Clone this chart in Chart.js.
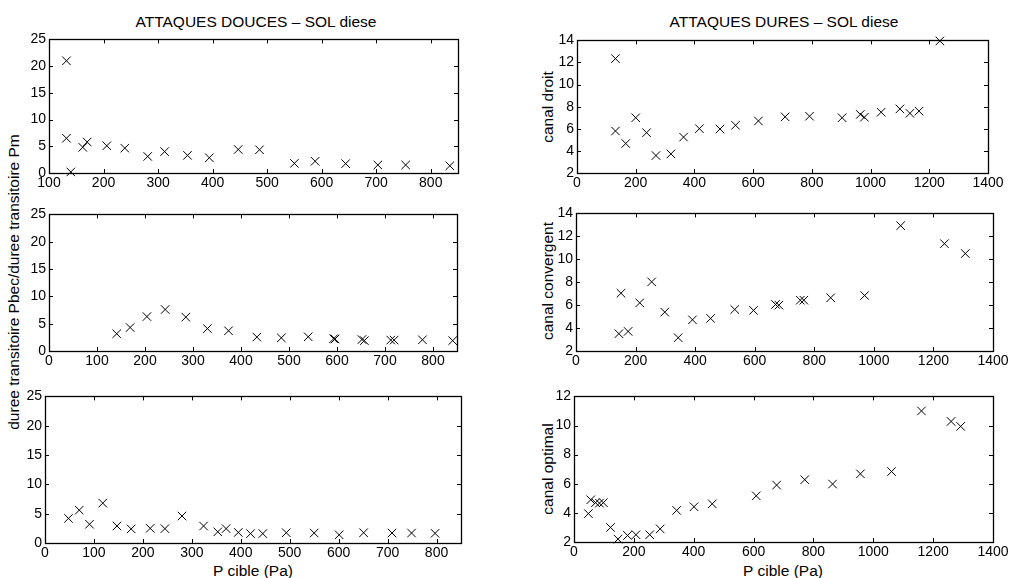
<!DOCTYPE html>
<html>
<head>
<meta charset="utf-8">
<script src="https://cdn.jsdelivr.net/npm/chart.js@4"></script>
<style>
  body { margin: 0; background: #fff; width: 1010px; height: 578px; position: relative; overflow: hidden;
         font-family: "Liberation Sans", Arial, sans-serif; color: #000; }
  canvas { position: absolute; }
  .lbl { position: absolute; font-size: 15.5px; line-height: 1; white-space: nowrap; transform: translate(-50%, -50%); }
  .rot { transform: translate(-50%, -50%) rotate(-90deg); }
</style>
</head>
<body>
<div class="lbl" style="left:256px; top:22px;">ATTAQUES DOUCES – SOL diese</div>
<div class="lbl" style="left:784px; top:22px;">ATTAQUES DURES – SOL diese</div>
<div class="lbl rot" style="left:14px; top:282px;">duree transitoire Pbec/duree transitoire Pm</div>
<div class="lbl rot" style="left:548px; top:107px;">canal droit</div>
<div class="lbl rot" style="left:548px; top:281px;">canal convergent</div>
<div class="lbl rot" style="left:548px; top:469px;">canal optimal</div>
<div class="lbl" style="left:253px; top:571px;">P cible (Pa)</div>
<div class="lbl" style="left:783px; top:571px;">P cible (Pa)</div>

<script>
// attaques douces (colonne gauche) : x = P cible (Pa), y = rapport des durees transitoires
const doucesDroitP = [132, 132, 140, 162, 170, 206, 239, 281, 312, 354, 394, 447, 486, 550, 588, 644, 703, 754, 835];
const doucesDroitR = [21, 6.5, 0.2, 4.8, 5.8, 5.1, 4.65, 3.1, 4.0, 3.3, 2.85, 4.4, 4.35, 1.8, 2.2, 1.75, 1.5, 1.5, 1.35];

const doucesConvP = [141, 169, 204, 242, 285, 330, 374, 433, 484, 540, 593, 596, 652, 657, 712, 719, 778, 841];
const doucesConvR = [3.15, 4.3, 6.3, 7.6, 6.2, 4.1, 3.7, 2.55, 2.4, 2.6, 2.25, 2.2, 2.1, 1.9, 2.0, 2.0, 2.05, 1.9];

const doucesOptP = [48, 70, 91, 118, 147, 176, 215, 245, 280, 324, 353, 370, 395, 420, 445, 493, 550, 601, 651, 709, 749, 797];
const doucesOptR = [4.2, 5.6, 3.2, 6.8, 2.9, 2.4, 2.5, 2.45, 4.6, 2.9, 1.9, 2.45, 1.8, 1.6, 1.6, 1.75, 1.7, 1.4, 1.75, 1.7, 1.7, 1.65];

// attaques dures (colonne droite)
const duresDroitP = [131, 131, 166, 200, 237, 269, 320, 363, 417, 487, 540, 618, 709, 792, 903, 965, 979, 1036, 1100, 1134, 1165, 1236];
const duresDroitR = [12.35, 5.8, 4.67, 7.0, 5.65, 3.58, 3.73, 5.25, 6.01, 5.98, 6.32, 6.71, 7.08, 7.14, 7.0, 7.3, 7.05, 7.5, 7.8, 7.4, 7.6, 13.95];

const duresConvP = [144, 151, 175, 214, 254, 298, 343, 391, 452, 533, 596, 670, 681, 753, 765, 855, 969, 1090, 1237, 1307];
const duresConvR = [3.51, 7.04, 3.71, 6.2, 8.03, 5.39, 3.16, 4.72, 4.84, 5.62, 5.54, 6.06, 6.0, 6.43, 6.43, 6.64, 6.84, 12.93, 11.36, 10.5];

const duresOptP = [48, 56, 72, 85, 98, 122, 147, 179, 207, 253, 288, 343, 401, 462, 609, 677, 771, 864, 957, 1061, 1161, 1260, 1292];
const duresOptR = [3.95, 4.9, 4.7, 4.67, 4.7, 3.0, 2.2, 2.45, 2.5, 2.5, 2.9, 4.17, 4.42, 4.62, 5.17, 5.91, 6.28, 5.98, 6.68, 6.84, 11.0, 10.28, 9.94];

// graduations
const xTicksDouces1 = [100, 200, 300, 400, 500, 600, 700, 800];
const xTicksDouces = [0, 100, 200, 300, 400, 500, 600, 700, 800];
const xTicksDures = [0, 200, 400, 600, 800, 1000, 1200, 1400];
const yTicksDouces = [0, 5, 10, 15, 20, 25];
const yTicksDures = [2, 4, 6, 8, 10, 12, 14];
const yTicksOpt = [2, 4, 6, 8, 10, 12];

// boite + petites graduations vers l'interieur (style matlab)
const boxPlugin = {
  id: 'box',
  afterDraw(chart) {
    const { ctx, chartArea: a, scales } = chart;
    ctx.save();
    ctx.strokeStyle = '#000';
    ctx.lineWidth = 1;
    ctx.beginPath();
    scales.x.ticks.forEach(t => {
      const px = Math.round(scales.x.getPixelForValue(t.value)) + 0.5;
      ctx.moveTo(px, a.bottom); ctx.lineTo(px, a.bottom - 4);
      ctx.moveTo(px, a.top); ctx.lineTo(px, a.top + 4);
    });
    scales.y.ticks.forEach(t => {
      const py = Math.round(scales.y.getPixelForValue(t.value)) + 0.5;
      ctx.moveTo(a.left, py); ctx.lineTo(a.left + 4, py);
      ctx.moveTo(a.right, py); ctx.lineTo(a.right - 4, py);
    });
    ctx.stroke();
    ctx.lineWidth = 1.3;
    ctx.strokeRect(Math.round(a.left) + 0.5, Math.round(a.top) + 0.5, Math.round(a.right - a.left), Math.round(a.bottom - a.top));
    ctx.restore();
  }
};

function panel(left, top, right, bottom, xs, ys, xmin, xmax, xt, ymin, ymax, yt) {
  const c = document.createElement('canvas');
  const w = right - left + 65, h = bottom - top + 30;
  c.width = w; c.height = h;
  c.style.left = (left - 45) + 'px';
  c.style.top = (top - 10) + 'px';
  c.style.width = w + 'px'; c.style.height = h + 'px';
  document.body.appendChild(c);

  const tickFont = { family: 'Liberation Sans', size: 14 };
  new Chart(c, {
    type: 'scatter',
    data: {
      datasets: [{
        data: xs.map((x, i) => ({ x: x, y: ys[i] })),
        pointStyle: 'crossRot',
        pointRadius: 6,
        borderColor: '#000',
        borderWidth: 1,
        backgroundColor: 'rgba(0,0,0,0)',
        clip: false
      }]
    },
    options: {
      responsive: false,
      animation: false,
      events: [],
      devicePixelRatio: 1,
      layout: { padding: { left: 0, top: 10, right: 20, bottom: 0 } },
      plugins: { legend: { display: false }, tooltip: { enabled: false } },
      scales: {
        x: {
          type: 'linear', min: xmin, max: xmax,
          grid: { display: false, drawTicks: false },
          border: { display: false },
          ticks: { color: '#000', padding: 2, font: tickFont, maxRotation: 0, autoSkip: false, callback: v => String(v) },
          afterBuildTicks: s => { s.ticks = xt.map(v => ({ value: v })); },
          afterFit: s => { s.height = 20; }
        },
        y: {
          type: 'linear', min: ymin, max: ymax,
          grid: { display: false, drawTicks: false },
          border: { display: false },
          ticks: { color: '#000', padding: 3, font: tickFont, autoSkip: false, callback: v => String(v) },
          afterBuildTicks: s => { s.ticks = yt.map(v => ({ value: v })); },
          afterFit: s => { s.width = 45; }
        }
      }
    },
    plugins: [boxPlugin]
  });
}

panel(49, 38, 458, 173, doucesDroitP, doucesDroitR, 100, 850, xTicksDouces1, 0, 25, yTicksDouces);
panel(49, 213, 457, 351, doucesConvP, doucesConvR, 0, 850, xTicksDouces, 0, 25, yTicksDouces);
panel(45, 395, 461, 543, doucesOptP, doucesOptR, 0, 850, xTicksDouces, 0, 25, yTicksDouces);

panel(577, 39, 988, 173, duresDroitP, duresDroitR, 0, 1400, xTicksDures, 2, 14, yTicksDures);
panel(576, 212, 993, 351, duresConvP, duresConvR, 0, 1400, xTicksDures, 2, 14, yTicksDures);
panel(574, 395, 993, 542, duresOptP, duresOptR, 0, 1400, xTicksDures, 2, 12, yTicksOpt);
</script>
</body>
</html>
